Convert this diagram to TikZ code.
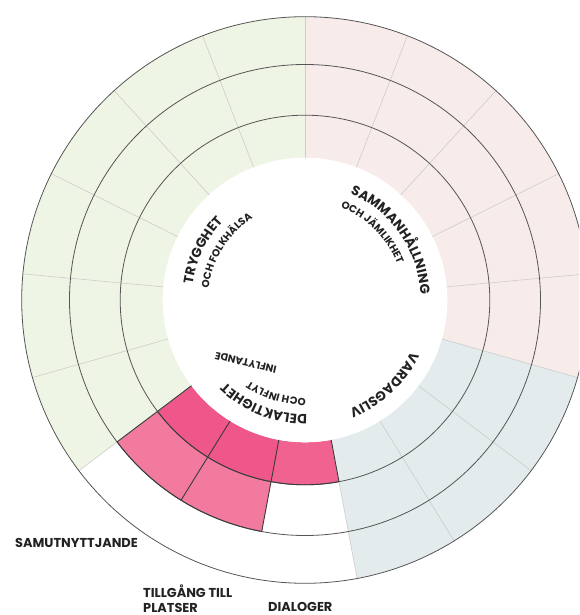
\documentclass[tikz,border=0pt]{standalone}
\usepackage{fontspec}
\setmainfont{Poppins}
\usetikzlibrary{decorations.text}
\definecolor{sage}{HTML}{EFF5E4}
\definecolor{blush}{HTML}{F8ECEB}
\definecolor{mist}{HTML}{E4EBEC}
\definecolor{deeppink}{HTML}{EF5689}
\definecolor{midpink}{HTML}{F0628F}
\definecolor{softpink}{HTML}{F27A9E}
\definecolor{ringgray}{HTML}{555555}
\definecolor{spokegray}{HTML}{CCCCCC}
\definecolor{edgedark}{HTML}{3A3A3A}
\definecolor{ink}{HTML}{222222}
\newcommand{\bigword}{\bfseries\fontsize{13.4}{15}\selectfont}
\newcommand{\smallword}{\bfseries\fontsize{10.3}{12}\selectfont}

\begin{document}
\begin{tikzpicture}[x=1pt,y=1pt,
ringline/.style={draw=ringgray,line width=0.8pt},
spoke/.style={draw=spokegray,line width=0.6pt},
celledge/.style={draw=edgedark,line width=0.9pt},
arcword/.style={decorate,decoration={text along path,text={#1},text align=left,text color=ink}},
outlabel/.style={anchor=base west,inner sep=0pt,text=ink,font=\bfseries\fontsize{12.9}{15}\selectfont}]
\useasboundingbox(0,0)rectangle(579,615);
\clip(0,0)rectangle(579,615);
\begin{scope}[shift={(305,315)}]
\pgfmathsetmacro{\seg}{360/17}
% sector fills
\fill[sage](0,0)--(90:283.3)arc[start angle=90,end angle=217.059,radius=283.3]--cycle;
\fill[blush](0,0)--(90:283.3)arc[start angle=90,end angle=-15.882,radius=283.3]--cycle;
\fill[mist](0,0)--(-15.882:283.3)arc[start angle=-15.882,end angle=-79.412,radius=283.3]--cycle;
\fill[white](0,0)--(-79.412:283.3)arc[start angle=-79.412,end angle=-142.941,radius=283.3]--cycle;
% delaktighet cells
\fill[midpink](-79.412:142.3)arc[start angle=-79.412,end angle=-100.588,radius=142.3]--(-100.588:184.8)arc[start angle=-100.588,end angle=-79.412,radius=184.8]--cycle;
\fill[deeppink](-100.588:142.3)arc[start angle=-100.588,end angle=-142.941,radius=142.3]--(-142.941:184.8)arc[start angle=-142.941,end angle=-100.588,radius=184.8]--cycle;
\fill[softpink](-100.588:184.8)arc[start angle=-100.588,end angle=-142.941,radius=184.8]--(-142.941:235.5)arc[start angle=-142.941,end angle=-100.588,radius=235.5]--cycle;
\fill[white](0,0)circle(142.3);
% spokes
\foreach \k in {0,...,8,11,12,...,16}
  \draw[spoke]({90-\k*\seg}:142.3)--({90-\k*\seg}:283.3);
% rings
\foreach \r in {283.3,235.5,184.8}
  \draw[ringline](0,0)circle(\r);
% dark cell edges
\foreach \k in {8,9,10,11}
  \draw[celledge]({90-\k*\seg}:142.3)--({90-\k*\seg}:184.8);
\foreach \k in {9,10,11}
  \draw[celledge]({90-\k*\seg}:184.8)--({90-\k*\seg}:235.5);
\draw[celledge](-79.412:184.8)arc[start angle=-79.412,end angle=-142.941,radius=184.8];
\draw[celledge](-100.588:235.5)arc[start angle=-100.588,end angle=-142.941,radius=235.5];
% curved titles
\path[arcword={|\bigword|TRYGGHET}](172:113.5)arc[start angle=172,end angle=80,radius=113.5];
\path[arcword={|\smallword|OCH FOLKHÄLSA}](173:97)arc[start angle=173,end angle=80,radius=97];
\path[arcword={|\bigword|SAMMANHÅLLNING}](67:115.5)arc[start angle=67,end angle=-20,radius=115.5];
\path[arcword={|\smallword|OCH JÄMLIKHET}](69:99)arc[start angle=69,end angle=0,radius=99];
\path[arcword={|\bigword|VARDAGSLIV}](-26:118)arc[start angle=-26,end angle=-90,radius=118];
\path[arcword={|\bigword|DELAKTIGHET}](-89:114.5)arc[start angle=-89,end angle=-160,radius=114.5];
\path[arcword={|\smallword|OCH INFLYT}](-89.5:98)arc[start angle=-89.5,end angle=-150,radius=98];
\node[rotate=167,inner sep=0pt,text=ink,font=\smallword](inflytande)at(-59.2,-62.5){INFLYTANDE};
\end{scope}
% outer labels
\node[outlabel](samut)at(15,67){SAMUTNYTTJANDE};
\node[outlabel](tillgang)at(143,17){TILLGÅNG TILL};
\node[outlabel](platser)at(143,2){PLATSER};
\node[outlabel](dialoger)at(268,3){DIALOGER};
\end{tikzpicture}
\end{document}
